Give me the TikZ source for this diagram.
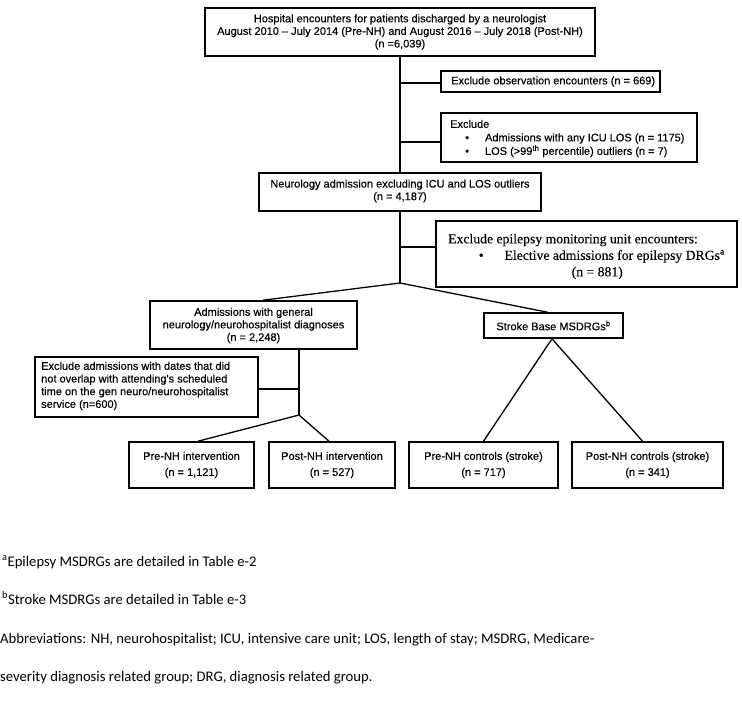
\documentclass[tikz,border=0pt]{standalone}
\usepackage{fontspec}
\setmainfont{Liberation Sans}
\newfontfamily\boxfont{Liberation Sans}[FakeBold=0.35]
\newfontfamily\serifbox{Liberation Serif}[FakeBold=0.2]
\newfontfamily\calib{Carlito}
\usetikzlibrary{calc}
\begin{document}
\begin{tikzpicture}[x=1pt,y=-1pt,
  box/.style={draw, line width=1.6pt, inner sep=0pt},
  txt/.style={font=\boxfont\fontsize{11}{12.6}\selectfont, inner sep=0pt, align=center},
  btxt/.style={font=\boxfont\fontsize{11}{16}\selectfont, inner sep=0pt, align=center},
  ltxt/.style={font=\boxfont\fontsize{11}{13.5}\selectfont, inner sep=0pt, align=left, anchor=west},
  stxt/.style={font=\serifbox\fontsize{13.7}{16.5}\selectfont, inner sep=0pt, align=left, anchor=west},
  conn/.style={line width=1.3pt},
  foot/.style={font=\calib\fontsize{14.67}{17}\selectfont, anchor=base west, inner sep=0pt}]
\useasboundingbox (0,0) rectangle (742,705);

% boxes
\node[box, minimum width=390pt, minimum height=48pt] (top) at (400,32) {};
\node[txt] (toptxt) at (400,32) {Hospital encounters for patients discharged by a neurologist\\August 2010 \textendash{} July 2014 (Pre-NH) and August 2016 \textendash{} July 2018 (Post-NH)\\(n =6,039)};

\node[box, minimum width=219pt, minimum height=21pt] (exc1) at (550.5,81.5) {};
\node[ltxt] (exc1txt) at (451,81.5) {Exclude observation encounters (n = 669)};

\node[box, minimum width=256pt, minimum height=49pt] (exc2) at (569,137.5) {};
\node[ltxt] (exc2txt) at (450,138.5) {Exclude\\\hspace*{15pt}\textbullet\hspace{16pt}Admissions with any ICU LOS (n = 1175)\\\hspace*{15pt}\textbullet\hspace{16pt}LOS (>99\textsuperscript{th} percentile) outliers (n = 7)};

\node[box, minimum width=282pt, minimum height=38pt] (neuro) at (400,192) {};
\node[txt] (neurotxt) at (400,191) {Neurology admission excluding ICU and LOS outliers\\(n = 4,187)};

\node[box, minimum width=301pt, minimum height=66pt] (epi) at (586.5,254) {};
\node[stxt] (epitxt) at (448,256.5) {Exclude epilepsy monitoring unit encounters:\\\hspace*{30.6pt}\textbullet\hspace{21pt}Elective admissions for epilepsy DRGs\textsuperscript{a}\\\hspace*{123.5pt}(n = 881)};

\node[box, minimum width=207pt, minimum height=48pt] (adm) at (253.5,325) {};
\node[txt] (admtxt) at (253.5,325.5) {Admissions with general\\neurology/neurohospitalist diagnoses\\(n = 2,248)};

\node[box, minimum width=139pt, minimum height=25pt] (stroke) at (553.5,325.5) {};
\node[txt] (striketxt) at (553.5,325.5) {Stroke Base MSDRGs\textsuperscript{b}};

\node[box, minimum width=223pt, minimum height=60pt] (lex) at (146.5,387) {};
\node[ltxt, font=\boxfont\fontsize{11}{12.7}\selectfont] (lextxt) at (41,386) {Exclude admissions with dates that did\\not overlap with attending's scheduled\\time on the gen neuro/neurohospitalist\\service (n=600)};

\node[box, minimum width=125pt, minimum height=46pt] (preI) at (191.5,465) {};
\node[btxt] (preItxt) at (191.5,465) {Pre-NH intervention\\(n = 1,121)};
\node[box, minimum width=126pt, minimum height=46pt] (postI) at (332,465) {};
\node[btxt] (postItxt) at (332,465) {Post-NH intervention\\(n = 527)};
\node[box, minimum width=149pt, minimum height=46pt] (preC) at (483.5,465) {};
\node[btxt] (preCtxt) at (483.5,465) {Pre-NH controls (stroke)\\(n = 717)};
\node[box, minimum width=151pt, minimum height=46pt] (postC) at (647.5,465) {};
\node[btxt] (postCtxt) at (647.5,465) {Post-NH controls (stroke)\\(n = 341)};

% connectors
\coordinate (apex1) at (400,283);
\coordinate (apex2) at (299,415);
\draw[conn] (top.south -| apex1) -- (neuro.north -| apex1);
\draw[conn] ([yshift=-1.5pt]exc1.west) -- ([yshift=-1.5pt]exc1.west -| apex1);
\draw[conn] ([yshift=-4.5pt]exc2.west) -- ([yshift=-4.5pt]exc2.west -| apex1);
\draw[conn] (neuro.south -| apex1) -- (apex1);
\draw[conn] ([yshift=7pt]epi.west) -- ([yshift=7pt]epi.west -| apex1);
\draw[conn] (apex1) -- ([xshift=9.5pt]adm.north);
\draw[conn] (apex1) -- ([xshift=-6pt]stroke.north);
\draw[conn] (adm.south -| apex2) -- (apex2);
\draw[conn] ([yshift=-2pt]lex.east) -- ([yshift=-2pt]lex.east -| apex2);
\draw[conn] (apex2) -- ([xshift=6.5pt]preI.north);
\draw[conn] (apex2) -- ([xshift=-3pt]postI.north);
\draw[conn] ([xshift=-1.5pt]stroke.south) -- (preC.north);
\draw[conn] ([xshift=-1.5pt]stroke.south) -- ([xshift=-5pt]postC.north);

% footnotes
\node[foot] (fa) at (2,566) {\textsuperscript{a}Epilepsy MSDRGs are detailed in Table e-2};
\node[foot] (fb) at (2,604) {\textsuperscript{b}Stroke MSDRGs are detailed in Table e-3};
\node[foot] (fc) at (0,643) {Abbreviations: NH, neurohospitalist; ICU, intensive care unit; LOS, length of stay; MSDRG, Medicare-};
\node[foot] (fd) at (0,681) {severity diagnosis related group; DRG, diagnosis related group.};
\end{tikzpicture}
\end{document}
